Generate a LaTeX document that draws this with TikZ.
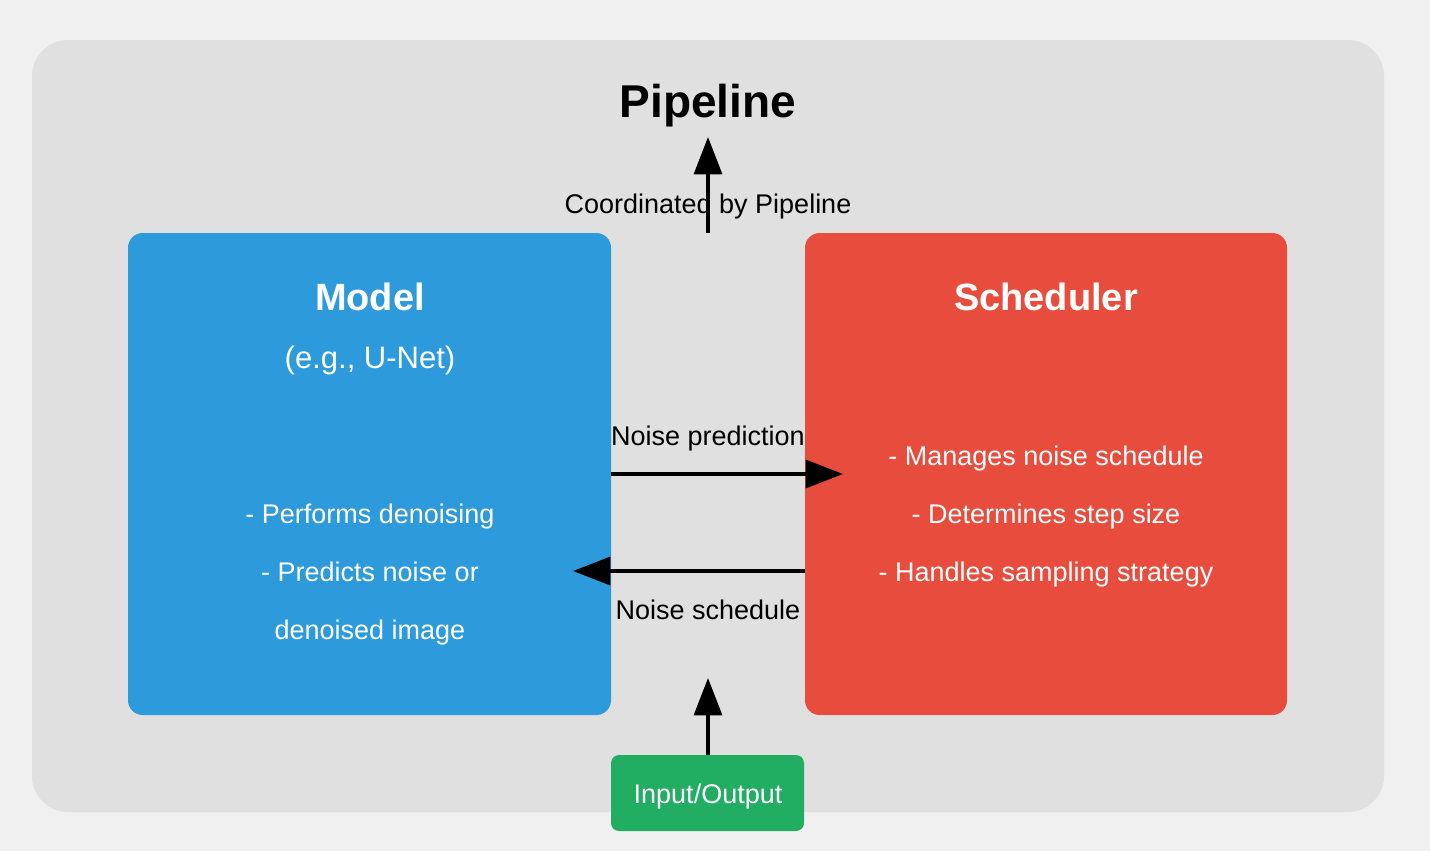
\documentclass[tikz,border=0pt]{standalone}
\usepackage{fontspec}
\setmainfont{Liberation Sans}
\usetikzlibrary{arrows.meta}
\definecolor{pagebg}{HTML}{F0F0F0}
\definecolor{panelbg}{HTML}{E0E0E0}
\definecolor{modelblue}{HTML}{2D9ADB}
\definecolor{schedred}{HTML}{E84C3D}
\definecolor{iogreen}{HTML}{21AE62}
\tikzset{
  box/.style={rounded corners=11pt},
  conn/.style={line width=2.4pt,-{Triangle[length=28pt,width=21pt]}},
  lbl/.style={anchor=base,inner sep=0pt,font=\fontsize{20.25}{24}\selectfont},
  wlbl/.style={lbl,text=white},
  title/.style={anchor=base,inner sep=0pt,text=white,font=\fontsize{28.5}{34}\selectfont\bfseries},
}
\begin{document}
\begin{tikzpicture}[x=0.75pt,y=-0.75pt]
\fill[pagebg] (0,0) rectangle (1430,851);
\useasboundingbox (0,0) rectangle (1430,851);
\fill[panelbg,rounded corners=27pt] (32,40) rectangle (1384,812);
\node[anchor=base,inner sep=0pt,font=\fontsize{34.5}{40}\selectfont\bfseries] (pipe) at (708,117) {Pipeline};
% boxes
\fill[modelblue,box] (128,233) rectangle (611,715);
\fill[schedred,box] (805,233) rectangle (1287,715);
\coordinate (modelL) at (611,474);
\coordinate (modelR) at (611,571);
\coordinate (schedL) at (805,474);
\coordinate (schedR) at (805,571);
\node[title] (mtitle) at (370,310) {Model};
\node[anchor=base,inner sep=0pt,text=white,font=\fontsize{23.25}{28}\selectfont] (msub) at (370,368) {(e.g., U-Net)};
\node[wlbl] (m1) at (370,523) {- Performs denoising};
\node[wlbl] (m2) at (370,581) {- Predicts noise or};
\node[wlbl] (m3) at (370,639) {denoised image};
\node[title] (stitle) at (1046,310) {Scheduler};
\node[wlbl] (s1) at (1046,465) {- Manages noise schedule};
\node[wlbl] (s2) at (1046,523) {- Determines step size};
\node[wlbl] (s3) at (1046,581) {- Handles sampling strategy};
% io
\fill[iogreen,rounded corners=6pt] (611,755) rectangle (804,831);
\node[wlbl] (io) at (708,803) {Input/Output};
% labels
\node[lbl] (coord) at (708,213) {Coordinated by Pipeline};
\node[lbl] (np) at (708,445) {Noise prediction};
\node[lbl] (ns) at (708,619) {Noise schedule};
% connectors
\coordinate (topS) at (708,233);
\coordinate (topE) at (708,137);
\coordinate (npE) at (843,474);
\coordinate (nsE) at (573,571);
\coordinate (ioS) at (708,755);
\coordinate (ioE) at (708,678);
\draw[conn] (topS) -- (topE);
\draw[conn] (modelL) -- (npE);
\draw[conn] (schedR) -- (nsE);
\draw[conn] (ioS) -- (ioE);
\end{tikzpicture}
\end{document}
